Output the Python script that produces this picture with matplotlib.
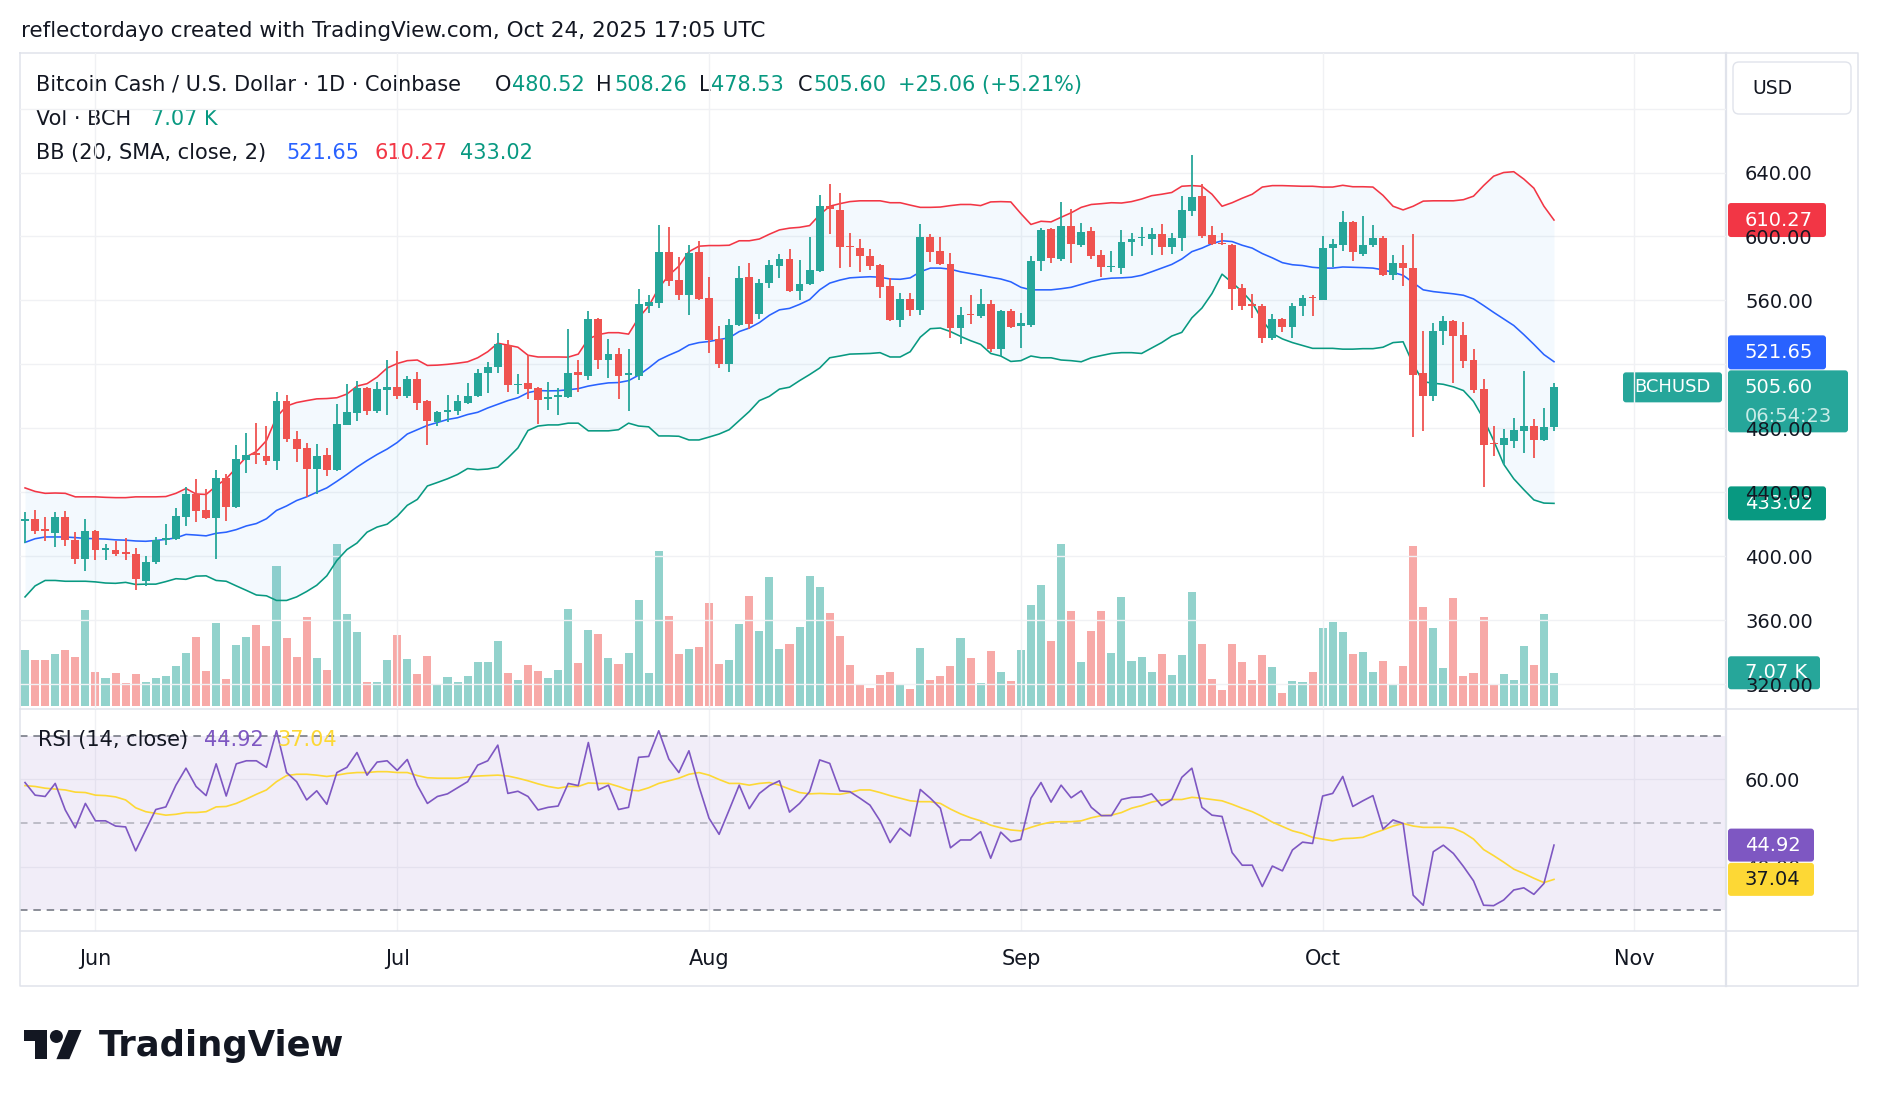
import datetime as dt
import numpy as np
import matplotlib
matplotlib.use("Agg")
import matplotlib.pyplot as plt
import matplotlib.dates as mdates
from matplotlib.patches import FancyBboxPatch, Polygon, Circle

plt.rcParams['font.family'] = ['DejaVu Sans']

# ---------------- data ----------------
start_date = dt.date(2025, 5, 25)

opens = [422.3, 423.4, 416.4, 414.8, 424.5, 410.2, 398.4, 415.9, 404.1, 404.1,
         402.3, 401.1, 384.3, 396.1, 409.8, 410.9, 424.5, 438.6, 429.1, 424.1,
         449.1, 430.9, 460.2, 464.3, 462.5, 459.3, 497.3, 473.0, 467.7, 454.8,
         463.2, 453.6, 482.0, 489.3, 505.2, 490.9, 504.1, 505.9, 500.2, 510.9,
         496.8, 484.1, 490.0, 490.9, 496.1, 500.2, 514.3, 518.2, 531.8, 506.8,
         508.2, 505.2, 498.4, 499.5, 499.5, 515.0, 512.7, 548.4, 522.9, 526.4,
         513.2, 512.7, 556.8, 558.6, 590.0, 572.7, 563.6, 590.0, 561.4, 535.9,
         520.0, 544.5, 574.5, 551.4, 570.7, 581.8, 585.9, 566.1, 570.0, 578.6,
         618.9, 616.6, 593.9, 592.7, 587.7, 582.0, 568.9, 547.9, 560.9, 554.1,
         599.5, 590.9, 582.5, 542.7, 551.4, 550.0, 557.5, 529.5, 553.4, 544.1,
         544.3, 584.8, 604.5, 585.9, 606.4, 594.5, 603.4, 588.2, 580.7, 580.2,
         596.6, 598.9, 598.2, 601.8, 593.6, 598.9, 616.1, 625.0, 600.7, 595.9,
         594.5, 567.7, 557.5, 556.4, 536.6, 548.4, 543.4, 556.4, 562.0, 560.5,
         592.7, 594.5, 609.1, 589.3, 594.5, 599.1, 576.1, 583.2, 580.2, 514.8,
         500.2, 541.1, 547.2, 538.2, 522.7, 504.8, 471.1, 469.5, 472.3, 478.6,
         481.4, 472.7, 480.52]
highs = [427.5, 429.1, 424.5, 427.7, 428.4, 415.4, 423.4, 416.5, 407.9, 409.3,
         411.6, 405.2, 400.2, 412.0, 420.0, 430.2, 443.2, 448.4, 442.0, 454.1,
         451.1, 469.5, 476.8, 483.6, 481.4, 502.9, 500.7, 478.6, 470.9, 470.0,
         467.7, 495.0, 507.5, 509.8, 505.9, 509.1, 522.7, 528.4, 512.7, 515.0,
         497.7, 490.5, 500.7, 500.7, 508.2, 517.1, 521.6, 539.8, 535.2, 513.9,
         525.7, 505.9, 509.1, 505.2, 542.3, 522.7, 553.4, 548.9, 535.9, 530.0,
         529.8, 567.3, 563.2, 607.0, 605.9, 587.0, 594.5, 597.3, 574.5, 543.9,
         548.4, 581.4, 583.6, 573.4, 585.2, 588.9, 592.3, 585.2, 599.5, 625.7,
         632.5, 627.3, 602.3, 598.4, 592.3, 583.0, 573.9, 564.8, 564.8, 608.0,
         601.4, 599.5, 589.8, 555.9, 563.2, 567.3, 560.2, 554.1, 554.5, 551.8,
         587.5, 605.2, 605.2, 621.6, 617.3, 608.2, 605.9, 591.5, 590.9, 604.1,
         602.3, 605.9, 605.2, 607.5, 602.3, 625.0, 650.7, 632.5, 606.4, 602.3,
         595.0, 570.0, 564.1, 557.5, 551.4, 548.8, 558.6, 563.2, 563.6, 600.0,
         598.4, 615.9, 609.8, 612.5, 607.0, 600.0, 588.2, 594.5, 601.4, 540.9,
         545.7, 550.2, 547.7, 546.6, 529.5, 510.9, 481.4, 479.5, 486.4, 516.1,
         485.9, 492.7, 508.26]
lows = [408.2, 413.6, 409.3, 405.5, 406.4, 395.0, 390.5, 397.3, 397.9, 400.4,
        397.3, 378.6, 381.4, 395.0, 406.8, 410.0, 418.8, 421.1, 423.4, 398.4,
        421.8, 430.0, 452.3, 457.5, 456.8, 453.6, 471.5, 458.6, 437.0, 438.6,
        450.0, 453.0, 481.8, 484.8, 488.2, 489.3, 488.6, 498.4, 499.1, 491.6,
        469.5, 481.4, 484.1, 488.6, 495.0, 499.8, 501.8, 514.3, 502.9, 501.4,
        498.4, 482.5, 491.6, 488.2, 499.0, 502.5, 510.5, 517.3, 511.6, 498.4,
        491.1, 510.2, 551.8, 555.2, 569.3, 560.5, 551.1, 560.5, 527.3, 517.7,
        515.0, 544.0, 542.0, 548.4, 567.7, 573.9, 565.5, 560.2, 569.5, 578.0,
        601.4, 580.2, 580.7, 577.5, 579.1, 561.4, 547.3, 543.4, 550.2, 550.7,
        584.1, 582.3, 536.6, 532.9, 545.0, 548.9, 527.9, 525.0, 542.7, 530.2,
        543.4, 578.6, 583.6, 584.8, 583.6, 593.4, 585.9, 574.5, 577.9, 576.8,
        587.5, 594.3, 588.6, 588.6, 589.3, 591.1, 612.5, 598.9, 594.5, 594.5,
        554.1, 554.1, 549.1, 533.6, 535.2, 540.5, 536.6, 550.2, 550.0, 560.0,
        580.9, 590.9, 584.8, 587.7, 593.2, 575.0, 572.9, 569.3, 474.5, 478.6,
        496.8, 531.8, 508.6, 517.7, 501.8, 443.4, 462.7, 456.8, 467.7, 464.8,
        461.6, 472.0, 478.53]
closes = [423.4, 415.5, 416.0, 424.5, 409.8, 398.4, 415.9, 403.6, 404.8, 401.1,
          401.4, 385.4, 396.6, 409.8, 411.4, 425.2, 438.6, 428.4, 424.1, 449.1,
          430.9, 460.9, 463.2, 463.2, 459.3, 497.3, 473.0, 467.3, 454.8, 462.5,
          453.6, 482.5, 490.0, 505.2, 490.9, 504.8, 505.9, 500.2, 510.9, 496.1,
          484.8, 490.0, 491.6, 496.8, 500.2, 514.8, 518.4, 532.9, 506.8, 507.9,
          504.8, 497.7, 499.5, 500.9, 514.8, 513.2, 548.4, 522.9, 526.4, 512.5,
          514.3, 557.5, 559.1, 590.0, 572.3, 563.6, 589.8, 560.9, 535.2, 520.0,
          544.5, 574.1, 545.0, 570.7, 582.0, 585.9, 566.1, 570.0, 579.1, 618.9,
          617.3, 593.2, 593.2, 587.5, 581.8, 568.4, 547.9, 560.9, 554.1, 599.5,
          590.5, 583.0, 542.7, 550.7, 550.7, 557.5, 529.5, 553.4, 543.2, 545.9,
          584.8, 604.1, 586.4, 606.4, 595.0, 602.9, 587.7, 580.9, 581.4, 596.6,
          598.4, 599.5, 601.4, 593.6, 599.1, 616.6, 624.5, 600.2, 595.0, 595.0,
          567.3, 556.8, 556.8, 536.6, 548.4, 543.4, 556.4, 561.4, 561.4, 592.7,
          595.0, 609.1, 590.0, 594.5, 599.1, 576.1, 583.2, 580.2, 513.6, 500.2,
          540.9, 547.2, 537.7, 522.3, 504.1, 469.5, 470.0, 473.9, 479.1, 481.4,
          472.7, 480.54, 505.60]
volumes_k = [11.9, 9.8, 9.8, 11.1, 11.9, 10.4, 20.4, 7.2, 6.0, 7.0,
             4.9, 6.8, 5.2, 6.0, 6.4, 8.5, 11.2, 14.6, 7.5, 17.6,
             5.8, 12.9, 14.6, 17.2, 12.8, 29.7, 14.5, 10.4, 18.8, 10.2,
             7.7, 34.4, 19.5, 15.6, 5.2, 5.2, 9.8, 15.1, 10.0, 6.8,
             10.6, 4.5, 6.2, 5.2, 6.4, 9.4, 9.4, 13.8, 7.0, 5.5,
             8.7, 7.5, 6.0, 7.7, 20.5, 9.2, 16.2, 15.3, 10.2, 8.9,
             11.2, 22.5, 7.0, 32.8, 19.1, 11.1, 12.1, 12.5, 21.8, 8.9,
             9.8, 17.4, 23.3, 15.9, 27.3, 12.1, 13.2, 16.8, 27.5, 25.2,
             19.7, 14.8, 8.7, 4.7, 3.8, 6.6, 7.2, 4.7, 3.6, 12.3,
             5.5, 6.4, 8.5, 14.5, 10.2, 4.9, 11.7, 7.2, 5.3, 11.9,
             21.4, 25.6, 13.8, 34.4, 20.2, 9.4, 15.9, 20.2, 11.2, 23.1,
             9.5, 10.4, 7.2, 11.1, 6.6, 10.8, 24.2, 13.2, 5.8, 3.5,
             13.2, 9.4, 5.5, 10.8, 8.3, 2.8, 5.3, 5.2, 7.2, 16.5,
             17.8, 15.7, 11.1, 11.5, 7.2, 9.5, 4.5, 8.5, 33.8, 21.0,
             16.5, 8.1, 22.9, 6.4, 7.0, 18.8, 4.7, 6.8, 5.5, 12.8,
             8.7, 19.5, 7.07]
bb_upper = [442.7, 440.5, 439.3, 439.5, 439.3, 437.1, 437.1, 437.1, 436.8, 436.6,
            436.6, 437.1, 437.1, 437.1, 437.3, 439.3, 442.3, 438.9, 438.6, 443.9,
            448.4, 455.2, 462.1, 465.5, 472.3, 487.0, 493.9, 496.1, 497.3, 498.4,
            498.6, 499.1, 501.4, 506.4, 507.9, 512.0, 517.7, 520.5, 522.3, 522.7,
            519.3, 519.5, 520.0, 520.7, 521.6, 524.1, 527.9, 533.2, 532.0, 530.7,
            525.7, 524.6, 524.6, 524.6, 524.5, 526.4, 535.9, 538.6, 539.8, 539.8,
            538.9, 549.1, 556.4, 567.7, 575.7, 581.4, 590.5, 593.9, 594.3, 594.3,
            594.5, 597.3, 597.3, 598.4, 601.4, 604.1, 605.2, 605.7, 606.8, 613.6,
            618.9, 620.5, 621.8, 622.3, 622.3, 622.3, 621.1, 621.1, 619.6, 618.2,
            618.2, 618.4, 619.3, 620.0, 620.0, 619.3, 621.6, 621.8, 621.6, 614.3,
            607.5, 609.5, 609.1, 612.0, 614.8, 618.2, 620.0, 620.5, 621.1, 620.9,
            621.8, 623.4, 625.5, 626.4, 627.5, 631.4, 631.8, 631.4, 626.4, 618.9,
            621.1, 623.9, 626.4, 630.9, 631.8, 631.8, 631.6, 631.4, 631.4, 630.9,
            630.9, 632.0, 631.1, 631.1, 630.9, 625.7, 618.9, 616.6, 618.9, 622.1,
            622.3, 622.3, 622.3, 623.0, 625.2, 631.8, 637.7, 640.0, 640.5, 635.9,
            630.2, 618.9, 610.27]
bb_basis = [408.6, 410.9, 412.0, 412.0, 412.0, 411.6, 411.1, 410.9, 410.7, 410.2,
            410.0, 409.5, 409.3, 409.8, 410.5, 411.4, 413.6, 413.2, 412.7, 414.3,
            415.0, 416.6, 418.9, 420.4, 423.4, 428.6, 431.4, 434.8, 437.1, 440.0,
            442.7, 446.8, 451.1, 455.7, 459.8, 463.6, 467.0, 471.1, 476.4, 479.1,
            481.8, 483.6, 485.5, 486.6, 488.6, 490.0, 492.7, 495.0, 497.3, 499.1,
            502.3, 503.6, 503.4, 503.5, 504.1, 504.8, 506.4, 507.5, 508.4, 508.6,
            509.8, 513.2, 517.7, 522.7, 525.7, 528.4, 532.1, 533.6, 534.3, 535.5,
            536.6, 540.5, 542.7, 546.1, 550.7, 554.1, 555.0, 557.5, 560.5, 566.6,
            570.8, 572.7, 574.1, 574.5, 574.8, 574.5, 573.4, 573.2, 574.1, 577.9,
            580.2, 580.2, 579.5, 577.9, 576.8, 575.7, 574.5, 573.4, 571.6, 568.2,
            566.6, 566.6, 566.6, 567.3, 568.2, 570.0, 571.8, 573.2, 573.9, 574.1,
            574.5, 575.7, 577.9, 580.2, 582.5, 585.9, 590.5, 592.7, 595.5, 597.3,
            596.8, 594.5, 592.7, 589.3, 586.6, 583.6, 582.3, 581.8, 580.7, 580.2,
            580.2, 580.9, 580.7, 580.5, 580.2, 579.1, 577.5, 575.7, 571.1, 566.6,
            565.5, 564.8, 564.1, 563.2, 560.9, 556.8, 552.5, 548.4, 544.3, 538.6,
            532.5, 526.1, 521.65]
bb_lower = [374.5, 381.4, 384.8, 384.8, 384.3, 384.3, 384.3, 383.9, 383.2, 383.0,
            383.6, 382.3, 382.5, 382.5, 384.1, 385.9, 385.5, 387.5, 387.7, 384.8,
            384.3, 381.4, 378.6, 375.7, 375.2, 372.3, 372.3, 374.5, 377.9, 381.8,
            387.7, 397.3, 404.1, 408.2, 415.0, 418.2, 420.0, 425.0, 431.8, 435.5,
            443.9, 446.1, 448.4, 451.1, 454.8, 454.1, 454.5, 455.7, 461.4, 467.7,
            478.6, 481.4, 482.1, 482.1, 483.2, 483.2, 478.4, 478.4, 478.4, 479.1,
            483.2, 481.4, 480.9, 475.2, 475.2, 475.0, 472.7, 472.7, 474.5, 476.4,
            479.1, 484.8, 490.5, 497.3, 500.0, 504.5, 505.7, 509.8, 513.6, 517.7,
            524.1, 525.2, 526.4, 526.6, 526.8, 527.3, 524.6, 524.6, 527.9, 537.0,
            542.3, 542.7, 540.5, 537.5, 534.8, 532.5, 526.8, 525.2, 521.8, 522.3,
            525.2, 524.1, 524.1, 522.7, 522.3, 521.6, 524.1, 525.5, 526.8, 527.3,
            527.3, 526.8, 530.2, 533.6, 537.7, 540.0, 549.1, 555.2, 564.3, 576.4,
            571.1, 565.5, 558.6, 547.7, 539.3, 535.9, 533.6, 531.8, 530.0, 530.0,
            530.0, 529.5, 529.5, 529.8, 529.8, 530.7, 533.6, 534.1, 520.0, 509.1,
            508.2, 507.5, 505.9, 503.6, 496.8, 485.9, 472.3, 457.5, 448.4, 441.6,
            435.2, 433.2, 433.02]
rsi = [59.3, 56.4, 56.1, 59.1, 53.0, 48.9, 54.5, 50.5, 50.5, 49.3,
       49.1, 43.6, 48.4, 53.1, 53.7, 58.7, 62.6, 58.4, 56.3, 63.6,
       56.2, 63.6, 64.3, 64.3, 62.8, 71.2, 61.6, 59.5, 55.3, 57.4,
       54.3, 61.6, 62.8, 66.2, 61.0, 64.0, 64.3, 62.1, 64.6, 58.7,
       54.5, 56.1, 56.7, 58.1, 59.5, 63.3, 64.3, 67.9, 56.8, 57.3,
       56.1, 53.0, 53.6, 53.9, 59.1, 58.6, 68.5, 57.6, 58.7, 53.1,
       53.6, 65.1, 65.3, 71.2, 64.7, 61.6, 66.6, 58.4, 51.1, 47.4,
       53.0, 58.7, 53.3, 56.8, 58.6, 59.7, 52.5, 54.5, 57.2, 64.5,
       63.7, 57.4, 57.2, 55.7, 54.1, 50.5, 45.5, 48.8, 47.0, 57.7,
       55.7, 53.4, 44.3, 46.1, 46.1, 48.0, 41.9, 47.9, 45.7, 46.2,
       55.7, 59.3, 54.8, 58.7, 55.8, 57.4, 53.6, 51.7, 51.7, 55.4,
       55.9, 56.0, 56.7, 54.0, 55.4, 60.5, 62.6, 53.6, 51.8, 51.5,
       43.2, 40.3, 40.3, 35.4, 40.1, 39.0, 43.8, 45.6, 45.3, 56.2,
       56.8, 60.7, 53.8, 55.1, 56.3, 48.6, 50.7, 49.9, 33.4, 31.1,
       43.4, 44.9, 43.0, 40.0, 36.7, 31.1, 31.0, 32.3, 34.6, 35.1,
       33.6, 36.1, 44.92]
rsi_ma = [58.6, 58.4, 58.0, 57.8, 57.6, 57.1, 57.0, 56.4, 56.3, 56.0,
          55.3, 53.5, 52.6, 52.2, 51.8, 52.0, 52.4, 52.4, 52.6, 53.7,
          53.8, 54.5, 55.5, 56.6, 57.6, 59.5, 60.9, 61.2, 61.2, 61.0,
          60.7, 61.0, 61.4, 61.6, 61.6, 61.8, 61.8, 61.6, 61.6, 60.9,
          60.4, 60.3, 60.3, 60.3, 60.6, 60.8, 60.9, 61.0, 60.8, 60.3,
          59.7, 59.0, 58.4, 58.0, 58.4, 58.4, 59.2, 59.1, 59.1, 58.4,
          57.6, 57.4, 58.1, 59.1, 59.7, 60.3, 61.2, 61.6, 61.0, 60.0,
          59.1, 59.1, 58.7, 59.1, 59.3, 58.7, 57.8, 57.0, 56.7, 56.8,
          56.7, 56.6, 57.0, 57.6, 57.6, 57.0, 56.3, 55.7, 55.1, 54.9,
          54.9, 54.5, 53.2, 52.1, 51.2, 50.5, 49.5, 48.9, 48.4, 48.2,
          49.0, 49.7, 50.2, 50.3, 50.3, 50.5, 51.2, 51.7, 51.8, 52.4,
          53.4, 54.0, 54.8, 55.3, 55.4, 55.4, 55.9, 55.7, 55.4, 55.1,
          54.3, 53.4, 52.6, 51.5, 50.2, 49.2, 48.2, 47.6, 46.7, 46.3,
          45.9, 46.4, 46.5, 46.7, 47.6, 48.4, 49.3, 49.9, 49.3, 49.0,
          49.0, 49.0, 48.8, 47.8, 46.3, 43.9, 42.5, 41.0, 39.4, 38.4,
          37.3, 36.3, 37.04]
month_ticks = [dt.date(2025, m, 1) for m in range(6, 12)]
month_labels = ['Jun', 'Jul', 'Aug', 'Sep', 'Oct', 'Nov']
price_ticks = [320, 360, 400, 440, 480, 520, 560, 600, 640, 680]
hidden_price_ticks = [520, 680]   # fully covered by labels in the reference
rsi_ticks = [40, 60]

# ---------------- styling ----------------
UP, DN = '#26A69A', '#EF5350'
UPV, DNV = '#92D2CC', '#F7A9A7'
GRID = '#F0F1F4'
TXT = '#131722'
FRAME = '#E0E3EB'
AXFS = 14

n = len(closes)
dates = mdates.date2num([start_date + dt.timedelta(days=k) for k in range(n)])
o = np.array(opens); hh = np.array(highs); ll = np.array(lows); c = np.array(closes)
up = c >= o
cc = np.where(up, UP, DN)
vc = np.where(up, UPV, DNV)
mnum = mdates.date2num(month_ticks)

W, H = 1878, 1106
fig = plt.figure(figsize=(W / 100, H / 100), dpi=100)
fig.patch.set_facecolor('white')


def rect(x0, y0, x1, y1):
    return [x0 / W, 1 - y1 / H, (x1 - x0) / W, (y1 - y0) / H]


x_left = dates[0] - 0.5
x_right = dates[0] + 169.1

# ---------------- price pane ----------------
ax = fig.add_axes(rect(20, 53, 1726, 708.5))
axv = ax.twinx()
ax.set_zorder(axv.get_zorder() + 1)
ax.patch.set_visible(False)

axv.bar(dates, volumes_k, width=0.8, color=vc, linewidth=0)
axv.set_ylim(-0.49, 138.2)
axv.set_yticks([])
for s in axv.spines.values():
    s.set_visible(False)

ax.fill_between(dates, bb_lower, bb_upper, color='#2196F3', alpha=0.05, linewidth=0, zorder=1)
ax.plot(dates, bb_basis, color='#2962FF', lw=1.15, zorder=2)
ax.plot(dates, bb_upper, color='#F23645', lw=1.15, zorder=2)
ax.plot(dates, bb_lower, color='#089981', lw=1.15, zorder=2)

ax.vlines(dates, ll, hh, colors=cc, lw=1.3, zorder=3)
body_bottom = np.minimum(o, c)
body_h = np.maximum(np.abs(c - o), 0.7)
ax.bar(dates, body_h, bottom=body_bottom, width=0.78, color=cc, linewidth=0, zorder=4)

ax.set_xlim(x_left, x_right)
axv.set_xlim(x_left, x_right)
ax.set_ylim(304.7, 714.76)
ax.set_yticks(price_ticks)
ax.set_yticklabels(['' if v in hidden_price_ticks else f'{v:.2f}' for v in price_ticks])
ax.yaxis.tick_right()
ax.tick_params(axis='y', length=0, pad=13.7, labelsize=AXFS, labelcolor=TXT)
ax.set_xticks(mnum)
ax.tick_params(axis='x', length=0, labelbottom=False)
ax.set_axisbelow(True)
ax.grid(True, color=GRID, lw=1.0)
for s in ax.spines.values():
    s.set_visible(False)

# ---------------- RSI pane ----------------
ax2 = fig.add_axes(rect(20, 708.5, 1726, 930.5))
ax2.axhspan(30, 70, color='#7E57C2', alpha=0.1, lw=0)
ax2.axhline(70, color='#787B86', lw=1.2, ls=(0, (4.5, 3.5)))
ax2.axhline(50, color='#787B86', lw=1.2, alpha=0.5, ls=(0, (4.5, 3.5)))
ax2.axhline(30, color='#787B86', lw=1.2, ls=(0, (4.5, 3.5)))
ax2.plot(dates, rsi_ma, color='#FDD835', lw=1.2, zorder=3)
ax2.plot(dates, rsi, color='#7E57C2', lw=1.2, zorder=4)
ax2.set_xlim(x_left, x_right)
ax2.set_ylim(25.29, 76.32)
ax2.set_yticks(rsi_ticks)
ax2.set_yticklabels([f'{v:.2f}' for v in rsi_ticks])
ax2.yaxis.tick_right()
ax2.tick_params(axis='y', length=0, pad=13.7, labelsize=AXFS, labelcolor=TXT)
ax2.set_xticks(mnum)
ax2.set_xticklabels(month_labels)
ax2.tick_params(axis='x', length=0, pad=13, labelsize=15, labelcolor=TXT)
ax2.set_axisbelow(True)
ax2.grid(True, color=GRID, lw=1.0)
for s in ax2.spines.values():
    s.set_visible(False)

# ---------------- overlay (frame, labels, header, logo) ----------------
ov = fig.add_axes([0, 0, 1, 1])
ov.set_xlim(0, W)
ov.set_ylim(H, 0)
ov.axis('off')
ov.patch.set_visible(False)

ov.plot([20, 1858, 1858, 20, 20], [53, 53, 986, 986, 53], color=FRAME, lw=1.1)
ov.plot([1726, 1726], [53, 986], color=FRAME, lw=1.6)
ov.plot([20, 1858], [708.5, 708.5], color=FRAME, lw=1.1)
ov.plot([20, 1858], [930.5, 930.5], color=FRAME, lw=1.1)


def ypx(axis, v):
    return H - axis.transData.transform((dates[0], v))[1]


def tag(x0, x1, yc, hgt, color, text, tcolor='white'):
    ov.add_patch(FancyBboxPatch((x0, yc - hgt / 2), x1 - x0, hgt,
                                boxstyle='round,pad=0,rounding_size=3',
                                fc=color, ec='none', zorder=5))
    ov.text(1745, yc, text, color=tcolor, fontsize=AXFS, va='center', ha='left', zorder=6)


# USD box
ov.add_patch(FancyBboxPatch((1733, 62), 118, 52, boxstyle='round,pad=0,rounding_size=6',
                            fc='white', ec=FRAME, lw=1.0, zorder=5))
ov.text(1752, 88, 'USD', color=TXT, fontsize=13.5, va='center', ha='left', zorder=6)

# current price label (with countdown) and the symbol tag
yc = ypx(ax, closes[-1])
price_top = yc - 17
ov.add_patch(FancyBboxPatch((1728, price_top), 120, 62, boxstyle='round,pad=0,rounding_size=3',
                            fc='#26A69A', ec='none', zorder=5))
ov.text(1745, yc, f'{closes[-1]:.2f}', color='white', fontsize=AXFS, va='center', ha='left', zorder=6)
ov.text(1745, yc + 29, '06:54:23', color='#C8EBE7', fontsize=AXFS, va='center', ha='left', zorder=6)
ov.add_patch(FancyBboxPatch((1623, yc - 15), 99, 30, boxstyle='round,pad=0,rounding_size=3',
                            fc='#26A69A', ec='none', zorder=5))
ov.text(1672.5, yc, 'BCHUSD', color='white', fontsize=13, va='center', ha='center', zorder=6)

tag(1728, 1826, ypx(ax, bb_upper[-1]), 34, '#F23645', f'{bb_upper[-1]:.2f}')
# basis label pushed up so it does not collide with the price label
yb = min(ypx(ax, bb_basis[-1]), price_top - 1 - 17)
tag(1728, 1826, yb, 34, '#2962FF', f'{bb_basis[-1]:.2f}')
tag(1728, 1826, ypx(ax, bb_lower[-1]), 34, '#089981', f'{bb_lower[-1]:.2f}')
yv = H - axv.transData.transform((dates[0], volumes_k[-1]))[1]
tag(1728, 1820, yv, 33, '#26A69A', f'{volumes_k[-1]:.2f} K')
tag(1728, 1814, ypx(ax2, rsi[-1]), 33, '#7E57C2', f'{rsi[-1]:.2f}')
tag(1728, 1814, ypx(ax2, rsi_ma[-1]), 33, '#FDD835', f'{rsi_ma[-1]:.2f}', tcolor=TXT)

# title
ov.text(21, 31, 'reflectordayo created with TradingView.com, Oct 24, 2025 17:05 UTC',
        color=TXT, fontsize=15.5, va='center', ha='left')

# legend lines
VAL = '#089981'
FS = 15
chg = closes[-1] - closes[-2]
pct = chg / closes[-2] * 100
segs = [
    (36.5, 85, 'Bitcoin Cash / U.S. Dollar · 1D · Coinbase', TXT),
    (495, 85, 'O', TXT), (512, 85, f'{opens[-1]:.2f}', VAL),
    (596, 85, 'H', TXT), (614, 85, f'{highs[-1]:.2f}', VAL),
    (699, 85, 'L', TXT), (711, 85, f'{lows[-1]:.2f}', VAL),
    (798, 85, 'C', TXT), (813, 85, f'{closes[-1]:.2f}', VAL),
    (898, 85, f'+{chg:.2f} (+{pct:.2f}%)', VAL),
    (36.5, 119, 'Vol · BCH', TXT), (151, 119, f'{volumes_k[-1]:.2f} K', VAL),
    (36.5, 153, 'BB (20, SMA, close, 2)', TXT),
    (286, 153, f'{bb_basis[-1]:.2f}', '#2962FF'),
    (375, 153, f'{bb_upper[-1]:.2f}', '#F23645'),
    (460, 153, f'{bb_lower[-1]:.2f}', VAL),
    (37.5, 740, 'RSI (14, close)', TXT),
    (204, 740, f'{rsi[-1]:.2f}', '#7E57C2'),
    (277, 740, f'{rsi_ma[-1]:.2f}', '#FDD835'),
]
for x, y, t, col in segs:
    ov.text(x, y, t, color=col, fontsize=FS, va='center', ha='left', zorder=6)

# TradingView logo
s = 1.62
X0, Y0 = 24, 1030


def lp(u, v):
    return (X0 + u * s, Y0 + (v - 4) * s)


ov.add_patch(Polygon([lp(0, 4), lp(14, 4), lp(14, 22), lp(7, 22), lp(7, 11), lp(0, 11)],
                     closed=True, fc=TXT, ec='none'))
ov.add_patch(Circle(lp(20, 8), 4 * s, fc=TXT, ec='none'))
ov.add_patch(Polygon([lp(20, 22), lp(27.5, 4), lp(35.5, 4), lp(28, 22)], closed=True, fc=TXT, ec='none'))
ov.text(99, 1046, 'TradingView', color=TXT, fontsize=25.5, fontweight='bold', va='center', ha='left')

fig.savefig('out.png', dpi=100, facecolor='white')
